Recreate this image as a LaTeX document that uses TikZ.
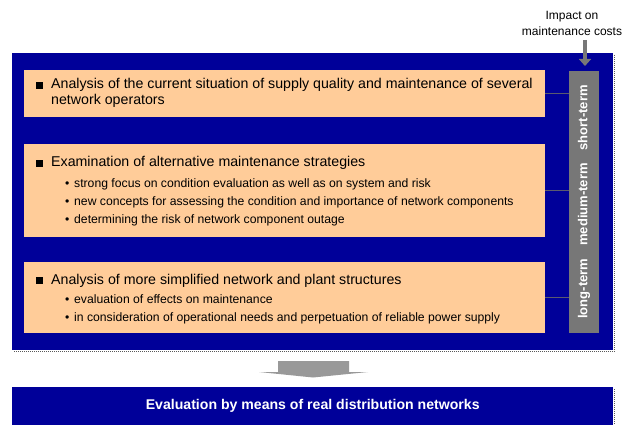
\documentclass[tikz,border=0pt]{standalone}
\usepackage{fontspec}
\setmainfont{Liberation Sans}
\usetikzlibrary{arrows.meta}
\definecolor{fondbleu}{RGB}{0,0,153}
\definecolor{saumon}{RGB}{255,204,153}
\definecolor{barregris}{RGB}{119,119,119}
\definecolor{liengris}{RGB}{90,90,110}
\definecolor{flechegris}{RGB}{153,153,153}
\newcommand{\puce}{\makebox[15pt][l]{\rule[0.3pt]{7pt}{7pt}}}
\newcommand{\point}{\makebox[9pt][l]{\textbullet}}
\begin{document}
\begin{tikzpicture}[x=1pt,y=-1pt,
    boite/.style={fill=saumon,anchor=north west,inner sep=0pt,minimum width=521pt},
    titre/.style={anchor=base west,inner sep=0pt,font=\fontsize{14.2}{16}\selectfont},
    detail/.style={anchor=base west,inner sep=0pt,font=\fontsize{12.2}{14}\selectfont},
    ombre/.style={gray!70!black,line width=1.3pt,dash pattern=on 1pt off 1pt},
    lien/.style={draw=liengris,line width=1.3pt}]
\useasboundingbox (0,0) rectangle (629,425);
\draw[ombre] (614.5,55) -- (614.5,351.5) -- (14,351.5); %ombre du cadre
\draw[ombre] (614.5,389) -- (614.5,425); %ombre du bas
\node[fill=fondbleu,anchor=north west,inner sep=0pt,minimum width=601pt,minimum height=297pt] (cadre) at (12,53) {};
\node[boite,minimum height=47pt] (b1) at (24,70) {};
\node[boite,minimum height=93pt] (b2) at (24,144) {};
\node[boite,minimum height=71pt] (b3) at (24,262) {};
\node[fill=barregris,inner sep=0pt,minimum width=30pt,minimum height=262pt] (barre) at (584,202) {};
\node[rotate=90,text=white,font=\bfseries\fontsize{13}{15}\selectfont] (echelle) at (barre) {long-term\quad medium-term\quad short-term};
\draw[lien] (b1.east) -- (b1.east -| barre.west);
\draw[lien] (b2.east) -- (b2.east -| barre.west);
\draw[lien] (b3.east) -- (b3.east -| barre.west);
% textes des boites
\node[titre] (t1) at (36,89) {\puce Analysis of the current situation of supply quality and maintenance of several};
\node[titre] (t1b) at (51,105) {network operators};
\node[titre] (t2) at (36,167) {\puce Examination of alternative maintenance strategies};
\node[detail] (t2a) at (65,187) {\point strong focus on condition evaluation as well as on system and risk};
\node[detail] (t2b) at (65,205) {\point new concepts for assessing the condition and importance of network components};
\node[detail] (t2c) at (65,223) {\point determining the risk of network component outage};
\node[titre] (t3) at (36,284) {\puce Analysis of more simplified network and plant structures};
\node[detail] (t3a) at (65,303) {\point evaluation of effects on maintenance};
\node[detail] (t3b) at (65,321) {\point in consideration of operational needs and perpetuation of reliable power supply};
% couts
\node[align=center,inner sep=0pt,font=\fontsize{12}{16}\selectfont] (impact) at (572,23) {Impact on\\maintenance costs};
\coordinate (depart) at (585,40);
\coordinate (pointe) at (585,66);
\draw[barregris,line width=4.5pt,-{Triangle[width=12pt,length=7pt]}] (depart) -- (pointe);
% fleche vers le bas
\fill[flechegris] (278,361) -- (349,361) -- (349,372) -- (368,372) -- (313,377.5) -- (259,372) -- (278,372) -- cycle;
\node[fill=fondbleu,anchor=north west,inner sep=0pt,minimum width=601pt,minimum height=38pt,text=white,font=\bfseries\fontsize{14.1}{16}\selectfont] (eval) at (12,387) {Evaluation by means of real distribution networks};
\end{tikzpicture}
\end{document}
